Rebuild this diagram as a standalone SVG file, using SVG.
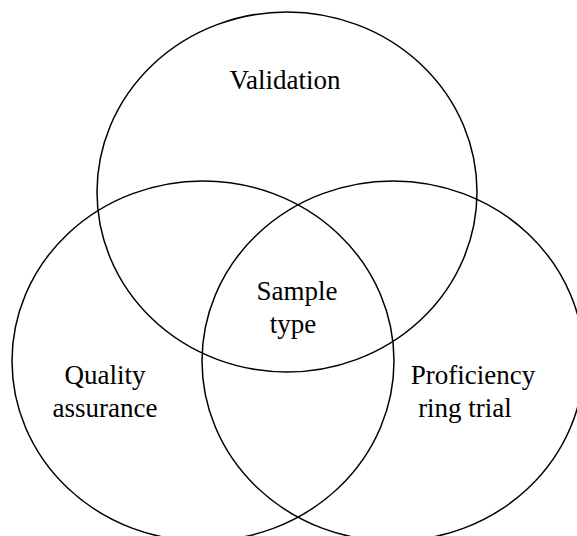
<svg xmlns="http://www.w3.org/2000/svg" width="577" height="536" viewBox="0 0 577 536">
<style>
.set{fill:none;stroke:#000;stroke-width:1.5}
.lbl{font-family:"Liberation Serif","Times New Roman",serif;font-size:27px;fill:#000;text-anchor:middle}
</style>
<rect width="577" height="536" fill="#fff"/>
<g id="validation">
<ellipse class="set" cx="287" cy="192" rx="190" ry="180"/>
<text class="lbl" x="285" y="89">Validation</text>
</g>
<g id="quality-assurance">
<ellipse class="set" cx="203" cy="361" rx="191" ry="180"/>
<text class="lbl" x="105" y="384">Quality</text>
<text class="lbl" x="105" y="417">assurance</text>
</g>
<g id="proficiency-ring-trial">
<ellipse class="set" cx="393" cy="361" rx="191" ry="180"/>
<text class="lbl" x="473" y="384">Proficiency</text>
<text class="lbl" x="465" y="417">ring trial</text>
</g>
<g id="sample-type">
<text class="lbl" x="297" y="300">Sample</text>
<text class="lbl" x="293" y="333">type</text>
</g>
<g id="connectors"></g>
</svg>
